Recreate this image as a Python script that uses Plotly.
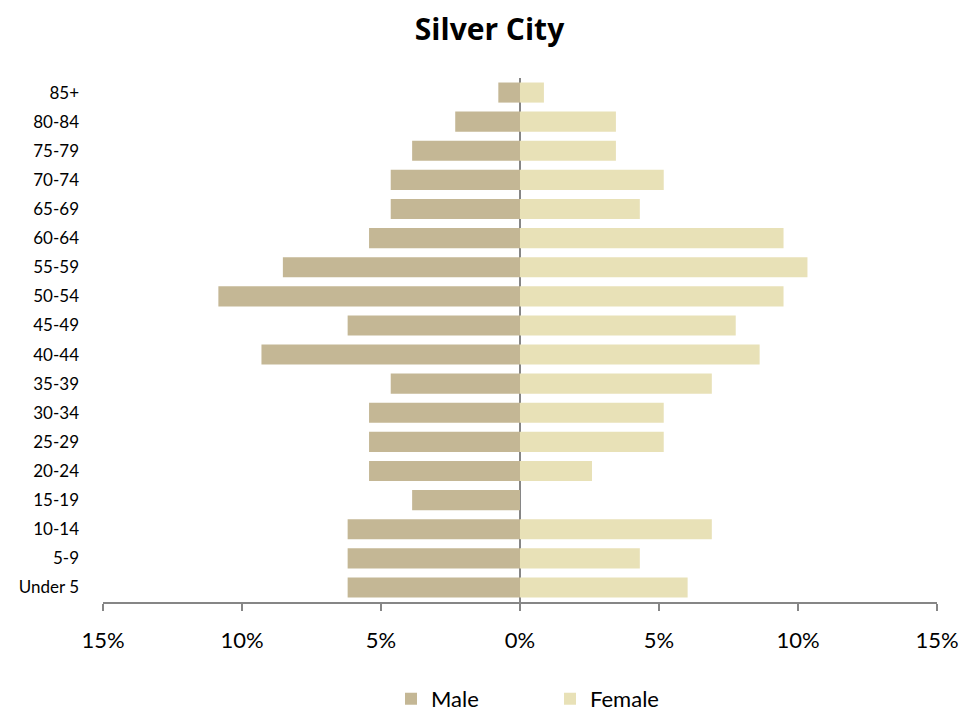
import plotly.graph_objects as go

age_groups = ["Under 5", "5-9", "10-14", "15-19", "20-24", "25-29", "30-34", "35-39",
              "40-44", "45-49", "50-54", "55-59", "60-64", "65-69", "70-74", "75-79",
              "80-84", "85+"]
male_pct = [6.20, 6.20, 6.20, 3.88, 5.43, 5.43, 5.43, 4.65,
            9.30, 6.20, 10.85, 8.53, 5.43, 4.65, 4.65, 3.88, 2.33, 0.78]
female_pct = [6.03, 4.31, 6.90, 0.0, 2.59, 5.17, 5.17, 6.90,
              8.62, 7.76, 9.48, 10.34, 9.48, 4.31, 5.17, 3.45, 3.45, 0.86]
tick_vals = [-15, -10, -5, 0, 5, 10, 15]
tick_text = ["15%", "10%", "5%", "0%", "5%", "10%", "15%"]

MALE_COLOR = "#C4B795"
FEMALE_COLOR = "#E8E1B7"
FONT = "Lato, 'Open Sans', sans-serif"
TITLE_FONT = "'Open Sans', Lato, sans-serif"

W, H = 971, 705  # page body has an 8px margin

fig = go.Figure()
fig.add_trace(go.Bar(
    y=age_groups, x=[-v for v in male_pct], name="Male", orientation="h",
    marker=dict(color=MALE_COLOR, line=dict(width=0)),
    customdata=male_pct, hovertemplate="%{y}: %{customdata:.1f}%<extra>Male</extra>",
))
fig.add_trace(go.Bar(
    y=age_groups, x=female_pct, name="Female", orientation="h",
    marker=dict(color=FEMALE_COLOR, line=dict(width=0)),
    hovertemplate="%{y}: %{x:.1f}%<extra>Female</extra>",
))

fig.update_layout(
    width=W, height=H,
    margin=dict(l=95, r=42, t=70, b=111, autoexpand=False),
    paper_bgcolor="white", plot_bgcolor="white",
    barmode="relative", bargap=0.31,
    font=dict(family=FONT, size=17, color="#000000"),
    title=dict(text="<b>Silver City</b>", x=481.5 / W, xref="container", xanchor="center",
               y=1 - 21 / H, yref="container", yanchor="middle",
               font=dict(family=TITLE_FONT, size=30, color="#000000")),
    showlegend=True,
    legend=dict(orientation="h", x=0.536, xanchor="center", y=-0.185, yanchor="middle",
                itemwidth=30, entrywidth=114, entrywidthmode="pixels",
                font=dict(family=FONT, size=22, color="#000000"),
                traceorder="normal"),
    xaxis=dict(range=[-15, 15], tickvals=tick_vals, ticktext=tick_text,
               showgrid=False, zeroline=True, zerolinecolor="#868686", zerolinewidth=2,
               showline=True, linecolor="#868686", linewidth=2,
               ticks="outside", ticklen=7, tickwidth=2, tickcolor="#868686",
               ticklabelstandoff=11, layer="above traces", automargin=False,
               tickfont=dict(family=FONT, size=22, color="#000000"), fixedrange=True),
    yaxis=dict(categoryorder="array", categoryarray=age_groups, range=[-0.5, 17.5],
               showgrid=False, showline=False, ticks="", ticklabelstandoff=23,
               automargin=False,
               tickfont=dict(family=FONT, size=17, color="#000000"), fixedrange=True),
)

fig.write_html("out.html")
